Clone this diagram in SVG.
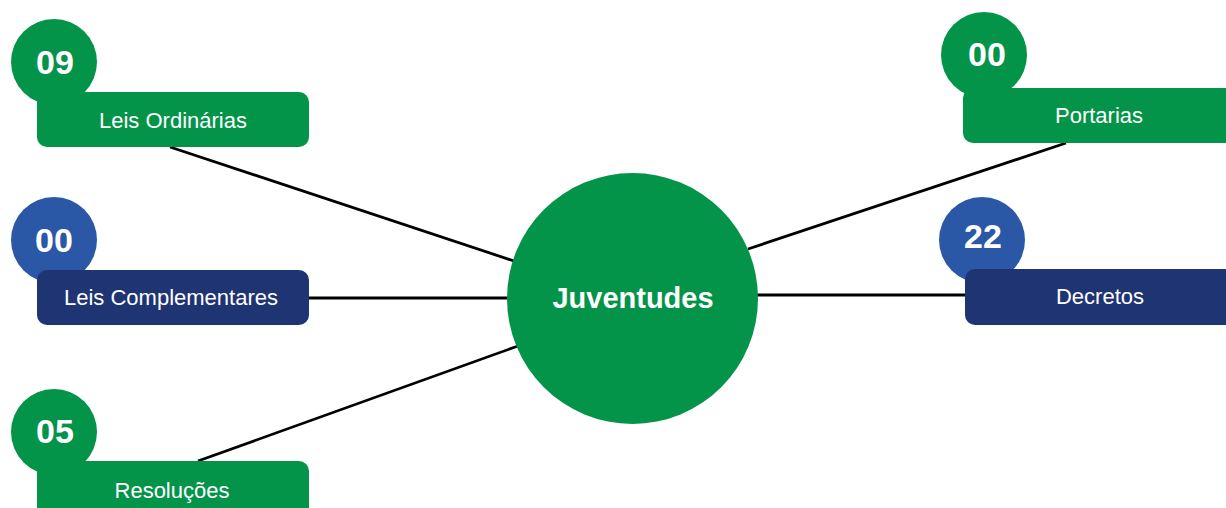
<svg xmlns="http://www.w3.org/2000/svg" width="1226" height="508" viewBox="0 0 1226 508">
<style>
.g{fill:#03944A}
.b{fill:#2B58A6}
.n{fill:#1F3473}
.lbl{font-family:"Liberation Sans",Arial,sans-serif;font-size:22px;fill:#fff;text-anchor:middle}
.num{font-family:"Liberation Sans",Arial,sans-serif;font-size:34px;font-weight:bold;fill:#fff;text-anchor:middle}
.ln{stroke:#000;stroke-width:2.8;fill:none}
</style>
<rect width="1226" height="508" fill="#fff"/>
<g id="connectors">
<line class="ln" x1="170" y1="147" x2="514" y2="261"/>
<line class="ln" x1="309" y1="298" x2="508" y2="298"/>
<line class="ln" x1="198" y1="461" x2="518" y2="346"/>
<line class="ln" x1="1066" y1="143" x2="748" y2="249"/>
<line class="ln" x1="757" y1="295" x2="966" y2="295" stroke-width="3.4"/>
</g>
<g id="center">
<circle class="g" cx="632.5" cy="298.5" r="125.5"/>
<text x="633" y="308" font-family="'Liberation Sans',Arial,sans-serif" font-size="29" font-weight="bold" fill="#fff" text-anchor="middle">Juventudes</text>
</g>
<g id="leis-ordinarias">
<circle class="g" cx="54" cy="62" r="43"/>
<rect class="g" x="37" y="92" width="272" height="55" rx="10"/>
<text class="num" x="55" y="74">09</text>
<text class="lbl" x="173" y="128">Leis Ordinárias</text>
</g>
<g id="leis-complementares">
<circle class="b" cx="54" cy="240" r="43"/>
<rect class="n" x="37" y="270" width="272" height="55" rx="10"/>
<text class="num" x="54" y="252">00</text>
<text class="lbl" x="171" y="305">Leis Complementares</text>
</g>
<g id="resolucoes">
<circle class="g" cx="54" cy="432" r="43"/>
<rect class="g" x="37" y="461" width="272" height="60" rx="10"/>
<text class="num" x="55" y="443">05</text>
<text class="lbl" x="172" y="498">Resoluções</text>
</g>
<g id="portarias">
<circle class="g" cx="984" cy="55" r="43"/>
<rect class="g" x="963" y="88" width="275" height="55" rx="10"/>
<text class="num" x="987" y="66" font-size="29">00</text>
<text class="lbl" x="1099" y="123">Portarias</text>
</g>
<g id="decretos">
<circle class="b" cx="982" cy="240" r="43"/>
<rect class="n" x="965" y="269" width="273" height="56" rx="10"/>
<text class="num" x="983" y="248" font-size="27">22</text>
<text class="lbl" x="1100" y="304">Decretos</text>
</g>
</svg>
